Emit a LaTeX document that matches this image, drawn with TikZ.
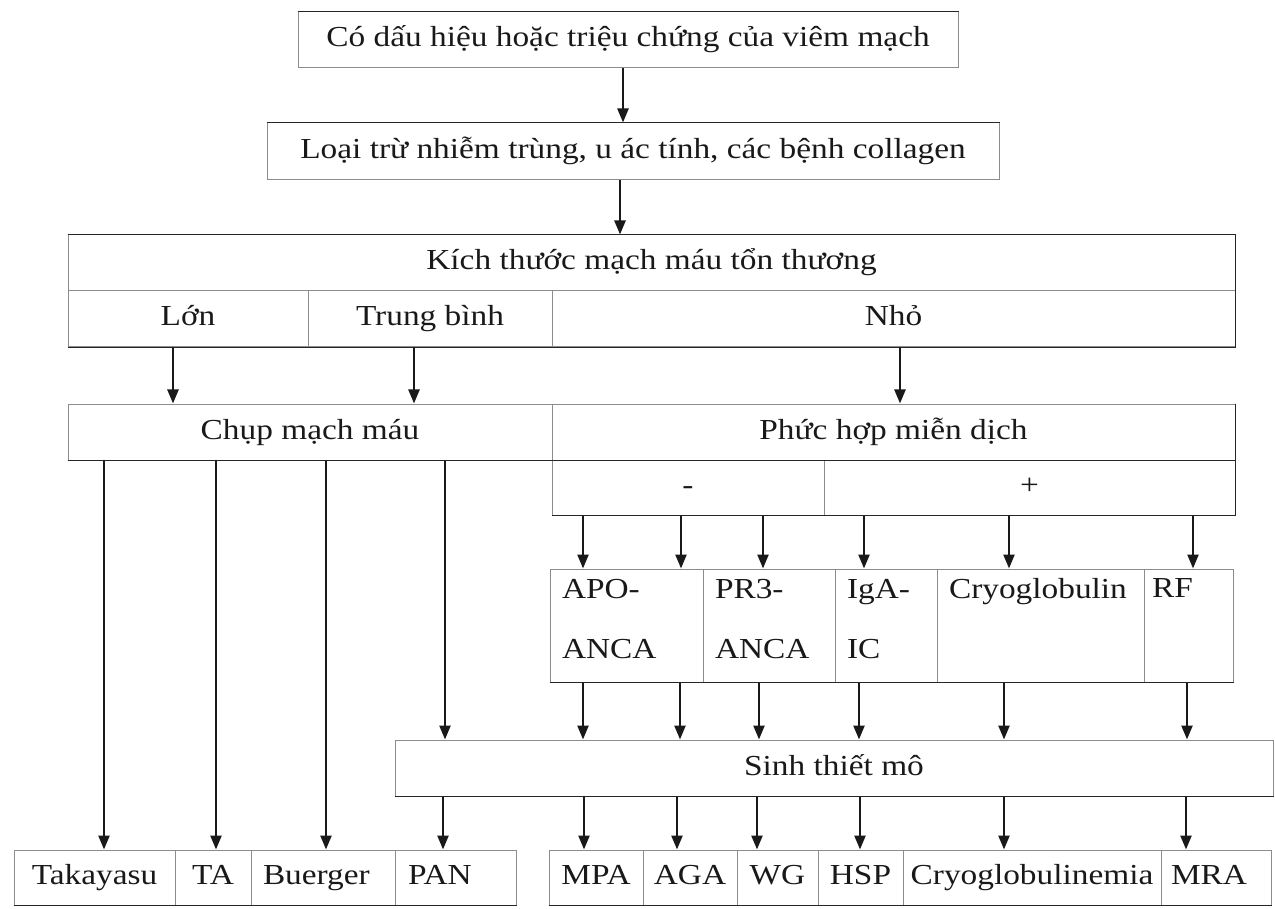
\documentclass[tikz,border=0pt]{standalone}
\usepackage{fontspec}
\setmainfont{Liberation Serif}[FakeStretch=1.15]
\usetikzlibrary{arrows.meta}

% vertical arrow leaving the bottom of node #1 (shifted by #3) down to the top of node #2
\newcommand\linkdown[3]{\draw[arr] ([xshift=#3pt]#1.south) -- ([xshift=#3pt]#1.south |- #2.north);}
% extra depth under the last line of a two-line cell
\newcommand\lowpad{\rule[-14pt]{0pt}{1pt}}

\begin{document}
\begin{tikzpicture}[x=1pt,y=-1pt,
  cell/.style={draw=black!45, line width=1pt, inner sep=0pt, minimum height=56pt,
               text height=20pt, text depth=6pt,
               text=black!90, font=\fontsize{29}{34}\selectfont},
  twoline/.style={cell, text height={}, text depth={}, minimum height=113pt,
               align=left, inner xsep=12pt, font=\fontsize{29}{60}\selectfont},
  leftcell/.style={cell, align=left},
  edge/.style={draw=black!85, line width=1.8pt},
  arr/.style={draw=black!90, line width=2.4pt, -{Triangle[length=14pt,width=11pt]}},
]
\fill[white] (0,0) rectangle (1275,909);
\useasboundingbox (0,0) rectangle (1275,909);

% first two steps
\node[cell, minimum width=660pt] (b1) at (628,40) {Có dấu hiệu hoặc triệu chứng của viêm mạch};
\node[cell, minimum width=732pt, minimum height=57pt] (b2) at (633,151.5) {Loại trừ nhiễm trùng, u ác tính, các bệnh collagen};

% vessel size table
\node[cell, minimum width=1167pt] (k) at (651.5,263) {Kích thước mạch máu tổn thương};
\node[cell, minimum width=240pt] (lon) at (188,319) {Lớn};
\node[cell, minimum width=244pt] (tb) at (430,319) {Trung bình};
\node[cell, minimum width=683pt] (nho) at (893.5,319) {Nhỏ};

% angiography / immune complexes
\node[cell, minimum width=484pt] (chup) at (310,432) {Chụp mạch máu};
\node[cell, minimum width=683pt] (phuc) at (893.5,432) {Phức hợp miễn dịch};
\node[cell, minimum width=272pt, minimum height=55pt] (neg) at (688,487.5) {-};
\node[cell, minimum width=411pt, minimum height=55pt] (pos) at (1029.5,487.5) {+};

% serology
\node[twoline, text width=129pt] (apo) at (626.5,625.5) {APO-\\ANCA\lowpad};
\node[twoline, text width=108pt] (pr3) at (769,625.5) {PR3-\\ANCA\lowpad};
\node[twoline, text width=78pt] (iga) at (886,625.5) {IgA-\\IC\lowpad};
\node[twoline, text width=183pt] (cryo) at (1040.5,625.5) {Cryoglobulin\\\vphantom{A}\lowpad};
\node[twoline, text width=73pt, inner xsep=8pt] (rf) at (1188.5,625.5) {RF\\\vphantom{A}\lowpad};

% biopsy
\node[cell, minimum width=878pt] (sinh) at (834,768) {Sinh thiết mô};

% diagnoses
\node[cell, minimum width=161pt, minimum height=55pt] (taka) at (94.5,877.5) {Takayasu};
\node[cell, minimum width=76pt, minimum height=55pt] (ta) at (213,877.5) {TA};
\node[leftcell, minimum height=55pt, inner xsep=12pt, text width=120pt] (bue) at (323,877.5) {Buerger};
\node[leftcell, minimum height=55pt, inner xsep=13pt, text width=95pt] (pan) at (455.5,877.5) {PAN};
\node[cell, minimum width=94pt, minimum height=55pt] (mpa) at (596,877.5) {MPA};
\node[cell, minimum width=94pt, minimum height=55pt] (aga) at (690,877.5) {AGA};
\node[cell, minimum width=81pt, minimum height=55pt] (wg) at (777.5,877.5) {WG};
\node[cell, minimum width=85pt, minimum height=55pt] (hsp) at (860.5,877.5) {HSP};
\node[cell, minimum width=258pt, minimum height=55pt] (cryd) at (1032,877.5) {Cryoglobulinemia};
\node[leftcell, minimum height=55pt, inner xsep=10pt, text width=90pt] (mra) at (1216,877.5) {MRA};

% heavier rules
\draw[edge] (b1.north west) -- (b1.north east);
\draw[edge] (b2.north west) -- (b2.north east);
\draw[edge] (k.north west) -- (k.north east);
\draw[edge] (lon.south west) -- (nho.south east);
\draw[edge] (chup.south west) -- (chup.south east);
\draw[edge] (phuc.south west) -- (phuc.south east);
\draw[edge] (neg.south west) -- (pos.south east);
\draw[edge] (apo.south west) -- (rf.south east);
\draw[edge] (sinh.south west) -- (sinh.south east);
\draw[edge] (taka.south west) -- (pan.south east);
\draw[edge] (mpa.south west) -- (mra.south east);
\draw[edge] (k.north east) -- (nho.south east);
\draw[edge] (phuc.north east) -- (pos.south east);

% connectors
\linkdown{b1}{b2}{-5}
\linkdown{b2}{k}{-13}
\linkdown{lon}{chup}{-15}
\linkdown{tb}{chup}{-16}
\linkdown{nho}{phuc}{6.5}

\linkdown{neg}{apo}{-105}
\linkdown{neg}{apo}{-7}
\linkdown{neg}{pr3}{75}
\linkdown{pos}{iga}{-165.5}
\linkdown{pos}{cryo}{-20.5}
\linkdown{pos}{rf}{163.5}

\linkdown{apo}{sinh}{-43.5}
\linkdown{apo}{sinh}{53.5}
\linkdown{pr3}{sinh}{-10}
\linkdown{iga}{sinh}{-27}
\linkdown{cryo}{sinh}{-36.5}
\linkdown{rf}{sinh}{-1.5}

\linkdown{chup}{sinh}{135}
\linkdown{chup}{taka}{-206}
\linkdown{chup}{ta}{-94}
\linkdown{chup}{bue}{16}

\linkdown{sinh}{pan}{-391}
\linkdown{sinh}{mpa}{-250}
\linkdown{sinh}{aga}{-157}
\linkdown{sinh}{wg}{-77}
\linkdown{sinh}{hsp}{26}
\linkdown{sinh}{cryd}{170}
\linkdown{sinh}{mra}{352}
\end{tikzpicture}
\end{document}
